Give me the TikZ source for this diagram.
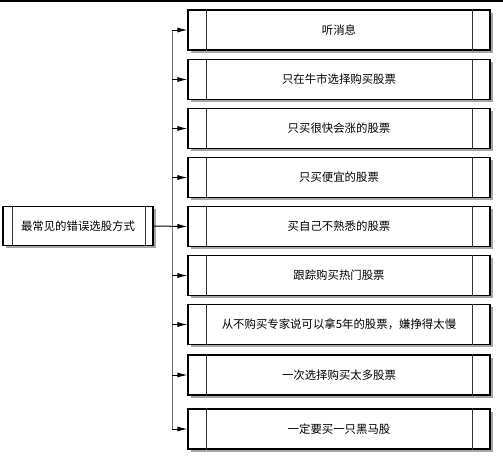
\documentclass[tikz,border=0pt]{standalone}
\usepackage{fontspec}
\newfontfamily\cjk{Noto Sans CJK SC}
\usetikzlibrary{arrows.meta,shadows}
\begin{document}
\begin{tikzpicture}[x=1pt,y=-1pt,
  box/.style={draw=black, line width=1.1pt, fill=white, rectangle,
    font=\cjk\fontsize{11.4}{13}\selectfont, inner sep=0pt,
    drop shadow={shadow xshift=2.5pt, shadow yshift=-2.5pt, fill=black!35, opacity=1}},
  itembox/.style={box, minimum width=302pt, minimum height=40pt},
  rootbox/.style={box, minimum width=150pt, minimum height=39pt},
  divider/.style={line width=0.6pt, draw=black!80},
  trunk/.style={line width=0.7pt, draw=black!55},
  arr/.style={line width=1pt, -{Latex[length=10pt,width=5pt]}}
]
\useasboundingbox (0,0) rectangle (503,456);
\draw[line width=2pt] (0,1) -- (503,1);

\node[rootbox] (root) at (78,226) {最常见的错误选股方式};
\draw[divider] ([xshift=10pt]root.north west) -- ([xshift=10pt]root.south west);
\draw[divider] ([xshift=-8pt]root.north east) -- ([xshift=-8pt]root.south east);

\foreach \i/\yy/\t in {1/30/听消息,
  2/79.5/只在牛市选择购买股票,
  3/128.5/只买很快会涨的股票,
  4/177.5/只买便宜的股票,
  5/226.5/买自己不熟悉的股票,
  6/275.5/跟踪购买热门股票,
  7/324.5/从不购买专家说可以拿5年的股票，嫌挣得太慢,
  8/375/一次选择购买太多股票,
  9/429/一定要买一只黑马股} {
  \node[itembox] (b\i) at (339,\yy) {\t};
  \draw[divider] ([xshift=18.5pt]b\i.north west) -- ([xshift=18.5pt]b\i.south west);
  \draw[divider] ([xshift=-18.5pt]b\i.north east) -- ([xshift=-18.5pt]b\i.south east);
  \coordinate (t\i) at (172,\yy);
}
\draw[trunk] (t1) -- (t9);
\foreach \i in {1,2,3,4,6,7,8,9} {
  \draw[arr] (t\i) -- (b\i.west);
}
\draw[arr] (root.east) -- (b5.west);
\end{tikzpicture}
\end{document}
